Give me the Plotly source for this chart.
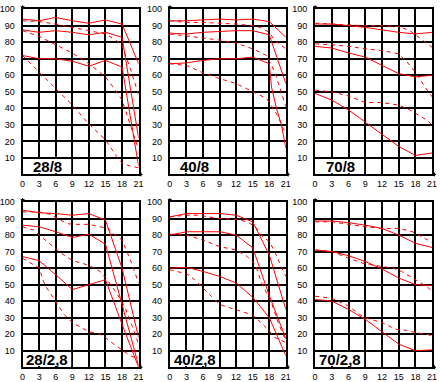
import plotly.graph_objects as go

# ---------------- data ----------------
X8 = [0, 3, 6, 9, 12, 15, 18, 21]
X_TICKS = [0, 3, 6, 9, 12, 15, 18, 21]
Y_TICKS = [10, 20, 30, 40, 50, 60, 70, 80, 90, 100]
PANEL_LABELS = ["28/8", "40/8", "70/8", "28/2,8", "40/2,8", "70/2,8"]

# panel 1: 28/8
p1_sa_y = [94, 93, 95, 93, 91.5, 93.5, 91, 67]
p1_sb_y = [87.5, 86, 87, 86, 84.5, 86, 83, 22]
p1_sc_y = [72, 70, 70, 68.5, 65.5, 69, 65, 5]
p1_da_x = [0, 3, 6, 9, 12, 15, 17, 18, 19.6, 21]
p1_da_y = [93, 92.5, 91, 89, 87, 85, 81, 78, 63, 48]
p1_db_x = [0, 3, 6, 9, 12, 15, 17, 18, 19.5, 21]
p1_db_y = [87, 83.5, 78.5, 73.5, 67, 59, 50, 45, 30, 15]
p1_dc_x = [0, 1.5, 3, 6, 9, 12, 15, 17, 18, 19.5, 21]
p1_dc_y = [72, 67, 62, 52, 42, 30.5, 21, 11, 7, 5, 4]

# panel 2: 40/8
p2_sa_y = [93, 93, 93.5, 94, 93.5, 94, 92.5, 83]
p2_sb_y = [85.5, 85, 86, 86.5, 87, 87, 84.5, 55]
p2_sc_x = [0, 3, 6, 9, 12, 15, 18, 18.4, 19.3, 20.2, 21]
p2_sc_y = [67, 67.5, 69, 70, 70, 71, 67, 53, 40, 30, 16]
p2_da_x = [0, 3, 6, 9, 12, 15, 16.3, 18, 19, 21]
p2_da_y = [93, 92, 92, 91.5, 91, 90, 89, 86, 81, 76]
p2_db_x = [0, 3, 5, 9, 12, 15, 17.5, 19, 20.2, 21]
p2_db_y = [85, 84, 83, 81.3, 79.5, 76, 72, 62, 49.5, 41]
p2_dc_x = [0, 3, 6, 9, 12, 15, 17.5, 18.7, 19.6, 20.5, 21]
p2_dc_y = [67, 66, 61.5, 58, 55, 50, 46, 40, 35, 28, 25]

# panel 3: 70/8
p3_sa_y = [91, 91, 90, 89, 87.5, 86, 85, 86]
p3_sb_y = [77.5, 76.5, 73.5, 71, 66, 61, 59, 60]
p3_sc_y = [49, 45, 39, 31.5, 24, 17, 11.5, 13]
p3_da_x = [0, 3, 6, 9, 12, 15, 17, 19, 21]
p3_da_y = [91.5, 91, 90.5, 90, 90, 89.5, 87, 82, 77]
p3_db_x = [0, 3, 6, 9, 12, 15, 16.5, 18, 19.5, 21]
p3_db_y = [79, 78.5, 77.5, 76, 75, 73, 68, 62, 54, 47]
p3_dc_x = [0, 3, 6, 9, 12, 15, 17, 18, 20, 21]
p3_dc_y = [51, 50, 47.5, 43.5, 43.5, 42, 39, 37, 33, 30]

# panel 4: 28/2,8
p4_sa_y = [95, 93.5, 93, 92, 93, 89, 60, 18]
p4_sb_y = [86, 85, 82, 78.5, 80.5, 74.5, 38, 1]
p4_sc_y = [67, 64.5, 56, 47, 50, 53, 26, 0]
p4_da_x = [0, 3, 5, 6.5, 8, 9, 12, 14, 15.5, 16.5, 18, 19.5, 21]
p4_da_y = [94, 94, 92.5, 90, 87, 86.5, 86.5, 85, 84, 80.7, 77, 65, 51]
p4_db_x = [0, 2, 3, 5.5, 7, 9, 12, 14, 15.5, 17, 18.5, 19.5, 21]
p4_db_y = [85, 83, 80, 73, 69, 64.6, 61.7, 58, 52, 45, 36.5, 28, 14]
p4_dc_x = [0, 1.5, 3, 4, 6, 7.5, 9, 12, 14, 15, 16.5, 18, 19.5, 21]
p4_dc_y = [66, 63, 60, 50, 39.5, 32, 27, 21.5, 20, 18, 14, 10.5, 7, 5]

# panel 5: 40/2,8
p5_sa_y = [91, 93, 93, 93, 92, 88, 68, 35]
p5_sb_y = [80, 82, 82, 82, 80, 72.3, 43.4, 17.3]
p5_sc_y = [60, 60.5, 58, 55, 51, 42.4, 30, 7]
p5_da_x = [0, 3, 5, 7, 9, 12, 14, 15.5, 16.5, 18, 19, 20, 21]
p5_da_y = [91, 92, 92, 91, 90, 89.5, 88, 85, 80, 76, 70, 62, 55]
p5_db_x = [0, 3, 6, 9, 12, 14, 15.5, 16.5, 17.5, 18.5, 19.5, 20.5, 21]
p5_db_y = [80.5, 80, 77, 73, 71, 67, 62, 52, 45, 38, 28, 20, 16]
p5_dc_x = [0, 1.5, 3, 4.5, 6, 7.5, 9, 11, 12, 14, 15, 16.5, 18, 19, 21]
p5_dc_y = [59, 58, 56.6, 53, 48.3, 43, 38, 36, 35, 33, 31.6, 27, 22, 18, 15]

# panel 6: 70/2,8
p6_sa_y = [88.5, 88.5, 87.5, 86, 84, 80, 75, 72.5]
p6_sb_y = [71, 70, 67.5, 64, 59.5, 54, 50, 49.5]
p6_sc_y = [41, 40, 35, 29, 21.5, 14, 10, 10.5]
p6_da_x = [0, 3, 6, 9, 12, 15, 17.5, 19.5, 21]
p6_da_y = [88, 88, 86.5, 85, 84, 84, 82, 78, 75.5]
p6_db_x = [0, 3, 6, 9, 12, 14, 15.5, 17, 18.5, 20, 21]
p6_db_y = [71, 70, 66, 62.5, 61, 60, 58, 55, 52, 49, 46]
p6_dc_x = [0, 2.5, 3.5, 6, 8, 9, 12, 14.5, 16, 18, 20, 21]
p6_dc_y = [43, 42, 41, 37, 32, 30, 27, 23, 22.5, 21, 20, 19]

panels = [
    ([(X8, p1_sa_y), (X8, p1_sb_y), (X8, p1_sc_y)],
     [(p1_da_x, p1_da_y), (p1_db_x, p1_db_y), (p1_dc_x, p1_dc_y)]),
    ([(X8, p2_sa_y), (X8, p2_sb_y), (p2_sc_x, p2_sc_y)],
     [(p2_da_x, p2_da_y), (p2_db_x, p2_db_y), (p2_dc_x, p2_dc_y)]),
    ([(X8, p3_sa_y), (X8, p3_sb_y), (X8, p3_sc_y)],
     [(p3_da_x, p3_da_y), (p3_db_x, p3_db_y), (p3_dc_x, p3_dc_y)]),
    ([(X8, p4_sa_y), (X8, p4_sb_y), (X8, p4_sc_y)],
     [(p4_da_x, p4_da_y), (p4_db_x, p4_db_y), (p4_dc_x, p4_dc_y)]),
    ([(X8, p5_sa_y), (X8, p5_sb_y), (X8, p5_sc_y)],
     [(p5_da_x, p5_da_y), (p5_db_x, p5_db_y), (p5_dc_x, p5_dc_y)]),
    ([(X8, p6_sa_y), (X8, p6_sb_y), (X8, p6_sc_y)],
     [(p6_da_x, p6_da_y), (p6_db_x, p6_db_y), (p6_dc_x, p6_dc_y)]),
]

# ---------------- layout ----------------
W, H = 441, 382
COLS_PX = [(17, 136), (168, 287), (317, 437)]
ROWS_PX = [(4.3, 174), (202.3, 372)]
RED = "#ff0000"

fig = go.Figure()
layout = dict(width=W, height=H, margin=dict(l=0, r=0, t=0, b=0),
              paper_bgcolor="white", plot_bgcolor="white", showlegend=False)
shapes = []
annotations = []

def px(x):
    return x / W

def py(y):
    return 1 - y / H

for i, (solids, dashes) in enumerate(panels):
    r, c = divmod(i, 3)
    n = i + 1
    xa = "x" if n == 1 else f"x{n}"
    ya = "y" if n == 1 else f"y{n}"
    for xs, ys in solids:
        fig.add_trace(go.Scatter(x=xs, y=ys, mode="lines", xaxis=xa, yaxis=ya,
                                 line=dict(color=RED, width=1), hoverinfo="skip"))
    for xs, ys in dashes:
        fig.add_trace(go.Scatter(x=xs, y=ys, mode="lines", xaxis=xa, yaxis=ya,
                                 line=dict(color=RED, width=1, dash="4px,4px"),
                                 hoverinfo="skip"))
    x0, x1 = COLS_PX[c]
    t, b = ROWS_PX[r]
    axcommon = dict(showgrid=True, gridcolor="black", gridwidth=2,
                    showline=True, mirror=True, linecolor="black", linewidth=2,
                    zeroline=False, ticks="", fixedrange=True,
                    ticklabeloverflow="allow",
                    tickfont=dict(family="Liberation Sans, Arial", size=9, color="black"))
    layout["xaxis" if n == 1 else f"xaxis{n}"] = dict(
        axcommon, domain=[px(x0), px(x1)], range=[0, 21], tickvals=X_TICKS,
        anchor=ya)
    layout["yaxis" if n == 1 else f"yaxis{n}"] = dict(
        axcommon, domain=[py(b), py(t)], range=[0, 100], tickvals=Y_TICKS,
        anchor=xa, ticklabelstandoff=4)
    # white label cell
    shapes.append(dict(type="rect", xref=xa, yref=ya, x0=0.2, x1=8.8, y0=0.7, y1=9.3,
                       fillcolor="white", line=dict(width=0), layer="between"))
    annotations.append(dict(xref=xa, yref=ya, x=4.5, y=4.6, text=f"<b>{PANEL_LABELS[i]}</b>",
                            showarrow=False, xanchor="center", yanchor="middle",
                            font=dict(family="Liberation Sans, Arial", size=15, color="black")))
    # small axis-end marks
    shapes.append(dict(type="line", xref="paper", yref="paper",
                       x0=px(x0), x1=px(x0), y0=py(t), y1=py(t - 4),
                       line=dict(color="black", width=1)))
    shapes.append(dict(type="line", xref="paper", yref="paper",
                       x0=px(x0 - 2), x1=px(x0 + 2), y0=py(t - 2.5), y1=py(t - 2.5),
                       line=dict(color="black", width=1)))
    shapes.append(dict(type="line", xref="paper", yref="paper",
                       x0=px(x1), x1=px(x1 + 4), y0=py(b), y1=py(b),
                       line=dict(color="black", width=1)))
    shapes.append(dict(type="line", xref="paper", yref="paper",
                       x0=px(x1 + 2.5), x1=px(x1 + 2.5), y0=py(b - 2), y1=py(b + 2),
                       line=dict(color="black", width=1)))

layout["shapes"] = shapes
layout["annotations"] = annotations
fig.update_layout(**layout)
fig.write_html("out.html", config={"displayModeBar": False},
               post_script="document.body.style.margin='0';document.body.style.padding='0';")
